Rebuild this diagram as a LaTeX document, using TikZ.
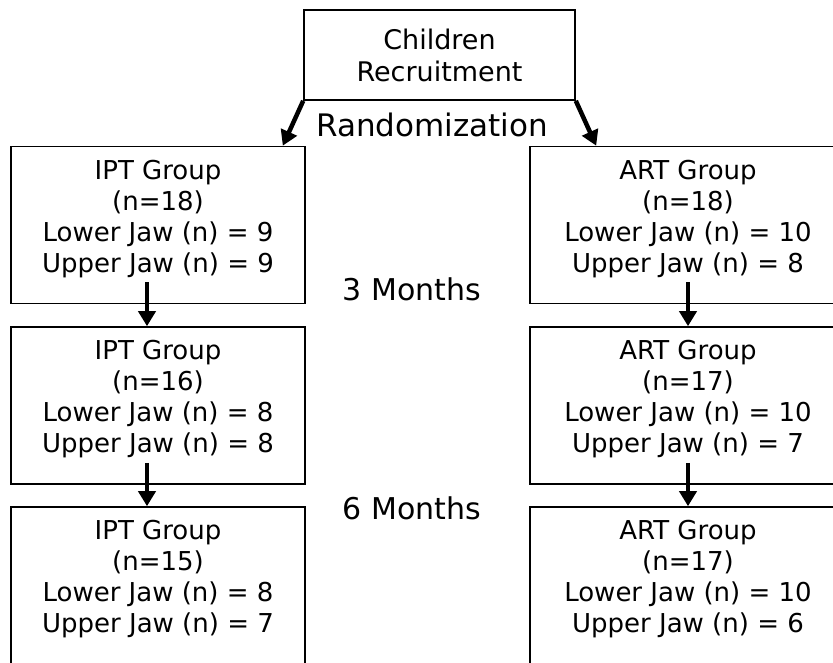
\documentclass[tikz,border=0pt]{standalone}
\usepackage{fontspec}
\setmainfont{DejaVu Sans}
\usetikzlibrary{arrows.meta, positioning}
\tikzset{
  sbox/.style    = {rectangle, draw, line width=1.6pt, align=center,
                    inner sep=0pt},
  grpbox/.style  = {sbox, minimum width=294pt, minimum height=157pt,
                    text depth=18pt, font=\fontsize{26}{31}\selectfont},
  artbox/.style  = {grpbox, minimum width=316pt},
  topbox/.style  = {sbox, minimum width=271pt, minimum height=90pt,
                    font=\fontsize{27}{32}\selectfont},
  arr/.style     = {-{Triangle[length=15pt, width=17pt]}, line width=4.5pt},
  lbl/.style     = {font=\fontsize{30}{36}\selectfont, inner sep=0pt, anchor=base},
}

\begin{document}
\begin{tikzpicture}[x=1pt, y=-1pt]
  \useasboundingbox (0,0) rectangle (833,663);
  \clip (0,0) rectangle (833,663);
  % recruitment
  \node[topbox] (rec) at (439.5,55) {Children\\Recruitment};
  \node[lbl, font=\fontsize{31}{36}\selectfont] (rand) at (432,137) {Randomization};
  % IPT column
  \node[grpbox] (ipt1) at (158,225) {IPT Group\\(n=18)\\Lower Jaw (n) = 9\\Upper Jaw (n) = 9};
  \node[grpbox] (ipt2) at (158,405.5) {IPT Group\\(n=16)\\Lower Jaw (n) = 8\\Upper Jaw (n) = 8};
  \node[grpbox] (ipt3) at (158,585.5) {IPT Group\\(n=15)\\Lower Jaw (n) = 8\\Upper Jaw (n) = 7};
  % ART column
  \node[artbox] (art1) at (688,225) {ART Group\\(n=18)\\Lower Jaw (n) = 10\\Upper Jaw (n) = 8};
  \node[artbox] (art2) at (688,405.5) {ART Group\\(n=17)\\Lower Jaw (n) = 10\\Upper Jaw (n) = 7};
  \node[artbox] (art3) at (688,585.5) {ART Group\\(n=17)\\Lower Jaw (n) = 10\\Upper Jaw (n) = 6};
  % time labels
  \node[lbl] (m3) at (412,301) {3 Months};
  \node[lbl] (m6) at (412,519) {6 Months};
  % arrows
  \draw[arr] (rec.south west) -- ([xshift=-23pt]ipt1.north east);
  \draw[arr] (rec.south east) -- ([xshift=67pt]art1.north west);
  \draw[arr] ([xshift=-11pt, yshift=22pt]ipt1.south) -- ([xshift=-11pt]ipt2.north);
  \draw[arr] ([xshift=-11pt, yshift=22pt]ipt2.south) -- ([xshift=-11pt]ipt3.north);
  \draw[arr] ([yshift=22pt]art1.south) -- (art2.north);
  \draw[arr] ([yshift=22pt]art2.south) -- (art3.north);
\end{tikzpicture}
\end{document}
